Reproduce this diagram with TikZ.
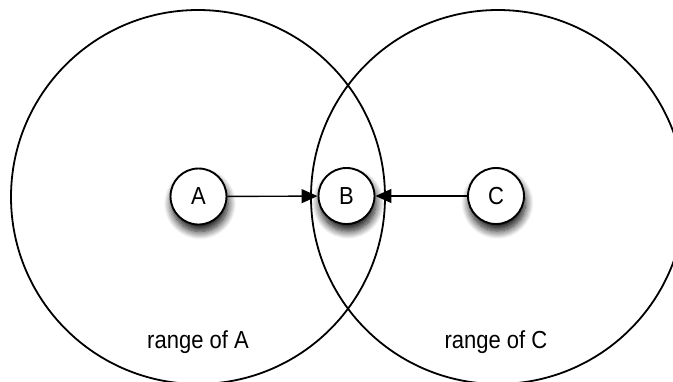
\documentclass[tikz,border=0pt]{standalone}
\usepackage{fontspec}
\setmainfont{Liberation Sans}
\usetikzlibrary{shadows.blur,arrows.meta}
\begin{document}
\begin{tikzpicture}[x=1pt,y=-1pt,
  >={Triangle[length=16pt,width=14pt]},
  rangecircle/.style={circle,draw,line width=1.8pt,minimum size=374pt,inner sep=0pt},
  station/.style={circle,draw,fill=white,line width=1.9pt,minimum size=56pt,inner sep=0pt,
    font=\fontsize{22}{24}\selectfont,
    blur shadow={shadow xshift=1.5pt,shadow yshift=-7pt,shadow blur radius=8pt,shadow opacity=95,shadow blur steps=12}},
  rangelabel/.style={font=\fontsize{22}{24}\selectfont,inner sep=0pt},
  link/.style={line width=1.4pt,->}]
\useasboundingbox (0,0) rectangle (673,381);
\clip (0,0) rectangle (673,381);
\node[rangecircle] (rA) at (198,197) {};
\node[rangecircle] (rC) at (498,197) {};
\node[station] (A) at (198.5,196.5) {\scalebox{1}[1.12]{A}};
\node[station] (B) at (346.5,196) {\scalebox{1}[1.12]{B}};
\node[station] (C) at (496,196) {\scalebox{1}[1.12]{C}};
\draw[link] (A) -- (B);
\draw[link] (C) -- (B);
\node[rangelabel] (lA) at (198,342) {\scalebox{1}[1.12]{range of A}};
\node[rangelabel] (lC) at (496,342) {\scalebox{1}[1.12]{range of C}};
\end{tikzpicture}
\end{document}
